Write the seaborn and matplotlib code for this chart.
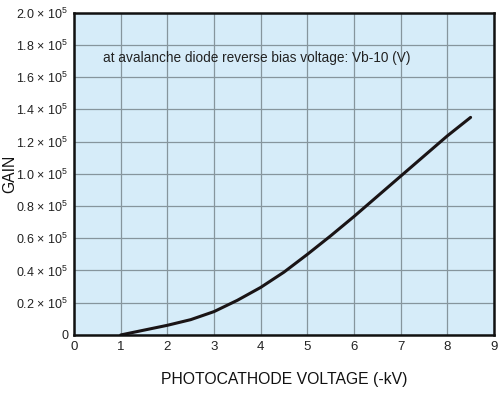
import pandas as pd
import matplotlib.pyplot as plt
import seaborn as sns

# -----------------------------
# Data
# -----------------------------
voltage_kv = [1.0, 1.5, 2.0, 2.5, 3.0, 3.5, 4.0, 4.5, 5.0, 5.5, 6.0, 6.5, 7.0, 7.5, 8.0, 8.5]
gain_e5 = [0.0, 0.03, 0.06, 0.095, 0.145, 0.215, 0.295, 0.39, 0.50, 0.615, 0.735, 0.86, 0.985, 1.11, 1.235, 1.35]

x_ticks = list(range(0, 10))
y_ticks = [0.0, 0.2, 0.4, 0.6, 0.8, 1.0, 1.2, 1.4, 1.6, 1.8, 2.0]
y_tick_labels = ['0'] + [rf'{v:.1f} $\times$ 10$^{{5}}$' for v in y_ticks[1:]]

df = pd.DataFrame({'voltage': voltage_kv, 'gain': [g * 1e5 for g in gain_e5]})

# -----------------------------
# Style
# -----------------------------
sns.set_theme(style="whitegrid", rc={
    'axes.facecolor': '#d6ecf9',
    'grid.color': '#86959d',
    'grid.linewidth': 0.9,
    'axes.edgecolor': '#111111',
    'axes.linewidth': 1.8,
})
plt.rcParams['font.family'] = ['Liberation Sans', 'DejaVu Sans']
plt.rcParams['mathtext.fontset'] = 'custom'
plt.rcParams['mathtext.rm'] = 'Liberation Sans'
plt.rcParams['mathtext.it'] = 'Liberation Sans:italic'
plt.rcParams['mathtext.bf'] = 'Liberation Sans:bold'
plt.rcParams['mathtext.default'] = 'rm'

fig = plt.figure(figsize=(5.04, 3.95), dpi=100)
ax = fig.add_axes([0.147, 0.152, 0.833, 0.816])

sns.lineplot(data=df, x='voltage', y='gain', color='#1a1416', linewidth=2.2, ax=ax)

ax.set_xlim(0, 9)
ax.set_ylim(0, 2.0e5)
ax.set_xticks(x_ticks)
ax.set_xticklabels([str(t) for t in x_ticks], fontsize=9.5, color='#222222')
ax.set_yticks([v * 1e5 for v in y_ticks])
ax.set_yticklabels(y_tick_labels, fontsize=9, color='#222222')
ax.tick_params(axis='both', length=0, pad=4)

for side in ['top', 'right', 'left', 'bottom']:
    ax.spines[side].set_visible(True)

ax.set_xlabel('PHOTOCATHODE VOLTAGE (-kV)', fontsize=11.3, color='#111111', labelpad=14)
ax.set_ylabel('GAIN', fontsize=11.3, color='#111111')
ax.yaxis.set_label_coords(-0.136, 0.50)

ax.text(0.62, 1.72e5, 'at avalanche diode reverse bias voltage: Vb-10 (V)',
        fontsize=9.8, color='#222222', ha='left', va='center')

fig.savefig('out.png', dpi=100)
plt.close(fig)
